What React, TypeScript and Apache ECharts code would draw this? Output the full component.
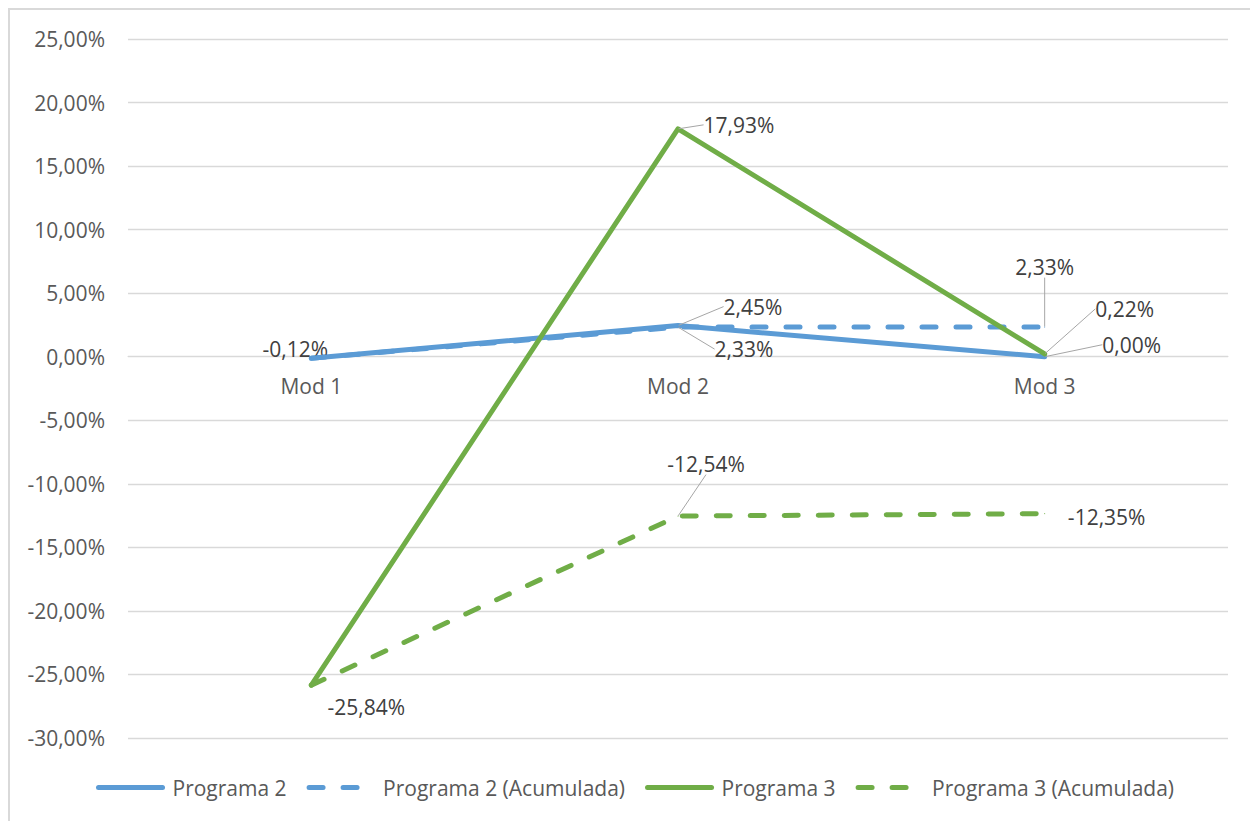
import React, { useEffect, useRef } from "react";
import * as echarts from "echarts";

const CATEGORIES = ["Mod 1", "Mod 2", "Mod 3"];
const SERIES_NAMES = [
  "Programa 2",
  "Programa 2 (Acumulada)",
  "Programa 3",
  "Programa 3 (Acumulada)",
];
const PROGRAMA_2 = [-0.12, 2.45, 0.0];
const PROGRAMA_2_ACUM = [-0.12, 2.33, 2.33];
const PROGRAMA_3 = [-25.84, 17.93, 0.22];
const PROGRAMA_3_ACUM = [-25.84, -12.54, -12.35];
const AXIS_ZERO = [0, 0, 0]; // category labels sit on the zero line
const Y_MIN = -30;
const Y_MAX = 25;
const Y_STEP = 5;

const BLUE = "#5B9BD5";
const GREEN = "#70AD47";
const FONT = "'Open Sans', 'Noto Sans', sans-serif";
const FS = 21;

// label placement (layout only): [dx, dy, leaderLine] or null = hidden
const LABEL_PLACEMENT: (null | [number, number, boolean])[][] = [
  [[-16, -9, false], [75, -19, true], [87, -12, true]],
  [null, [66, 22, true], [0, -60, true]],
  [[55, 22, false], [61, -4, true], [80, -45, true]],
  [null, [28, -52, true], [62, 3, false]],
];

const fmt = (v: number) => v.toFixed(2).replace(".", ",") + "%";

export default function App() {
  const ref = useRef<HTMLDivElement>(null);
  useEffect(() => {
    if (!ref.current) return;
    const chart = echarts.init(ref.current, null, { renderer: "svg" });
    const values = [PROGRAMA_2, PROGRAMA_2_ACUM, PROGRAMA_3, PROGRAMA_3_ACUM];
    const colors = [BLUE, BLUE, GREEN, GREEN];
    const dashed = [false, true, false, true];
    const series: any[] = values.map((vals, si) => ({
      name: SERIES_NAMES[si],
      type: "line",
      data: vals.map((v, di) => {
        const p = LABEL_PLACEMENT[si][di];
        return {
          value: v,
          label: { show: p != null },
          labelLine: { show: !!(p && p[2]) },
        };
      }),
      symbol: "circle",
      symbolSize: 1,
      itemStyle: { color: colors[si] },
      lineStyle: {
        color: colors[si],
        width: 5,
        type: dashed[si] ? [14, 20] : "solid",
        cap: "round",
        join: "round",
      },
      label: {
        show: true,
        position: "inside",
        formatter: (p: any) => fmt(p.value),
        color: "#404040",
        fontSize: FS,
        fontFamily: FONT,
      },
      labelLine: {
        show: true,
        lineStyle: { color: "#a6a6a6", width: 1 },
      },
      labelLayout: (params: any) => {
        const p = LABEL_PLACEMENT[si][params.dataIndex];
        if (p) return { dx: p[0], dy: p[1] };
        return {};
      },
      z: 2 + si,
    }));

    // category labels placed on the zero line (Excel style)
    series.push({
      name: "__axis",
      type: "line",
      data: AXIS_ZERO,
      symbol: "circle",
      symbolSize: 1,
      itemStyle: { color: "rgba(0,0,0,0)", borderWidth: 0 },
      lineStyle: { color: "rgba(0,0,0,0)", width: 0 },
      silent: true,
      z: 1,
      label: {
        show: true,
        position: "bottom",
        distance: 18,
        formatter: (p: any) => CATEGORIES[p.dataIndex],
        color: "#595959",
        fontSize: FS,
        fontFamily: FONT,
      },
    });

    chart.setOption({
      animation: false,
      backgroundColor: "#ffffff",
      graphic: [
        {
          type: "rect",
          shape: { x: 9, y: 9, width: 1400, height: 1000 },
          style: { fill: "none", stroke: "#d9d9d9", lineWidth: 2 },
          silent: true,
        },
      ],
      grid: { left: 128, right: 22, top: 39, bottom: 83 },
      legend: {
        left: 96,
        top: 777,
        padding: 0,
        itemWidth: 64,
        itemHeight: 14,
        itemGap: 20,
        data: SERIES_NAMES,
        itemStyle: { opacity: 0 },
        lineStyle: { width: 5, cap: "round" },
        textStyle: {
          color: "#595959",
          fontSize: FS,
          fontFamily: FONT,
          padding: [0, 0, 0, 5],
        },
      },
      xAxis: {
        type: "category",
        data: CATEGORIES,
        boundaryGap: true,
        axisLine: { show: true, onZero: true, lineStyle: { color: "#d9d9d9", width: 1 } },
        axisTick: { show: false },
        axisLabel: { show: false },
        splitLine: { show: false },
      },
      yAxis: {
        type: "value",
        min: Y_MIN,
        max: Y_MAX,
        interval: Y_STEP,
        axisLine: { show: false },
        axisTick: { show: false },
        axisLabel: {
          color: "#595959",
          fontSize: FS,
          fontFamily: FONT,
          margin: 23,
          formatter: (v: number) => fmt(v),
        },
        splitLine: { lineStyle: { color: "#d9d9d9", width: 1.3 } },
      },
      series,
    });
    return () => chart.dispose();
  }, []);
  return (
    <div
      ref={ref}
      style={{ position: "absolute", left: 0, top: 0, width: 1250, height: 821 }}
    />
  );
}
